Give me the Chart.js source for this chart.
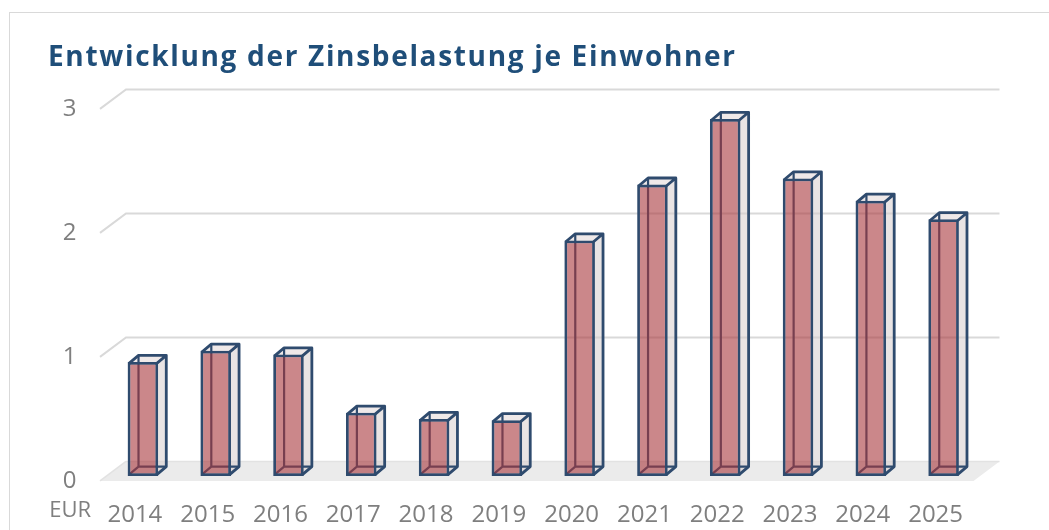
<!DOCTYPE html>
<html>
<head>
<meta charset="utf-8">
<script src="https://cdn.jsdelivr.net/npm/chart.js@4/dist/chart.umd.min.js"></script>
<style>
  html, body { margin: 0; padding: 0; background: #fff; }
  #wrap { width: 1049px; height: 530px; position: relative; }
</style>
</head>
<body>
<div id="wrap"><canvas id="chart"></canvas></div>
<script>
const years = ['2014', '2015', '2016', '2017', '2018', '2019', '2020', '2021', '2022', '2023', '2024', '2025'];
const zinsJeEinwohner = [0.92, 1.01, 0.98, 0.51, 0.46, 0.45, 1.90, 2.35, 2.88, 2.40, 2.22, 2.07];
const yTicks = [0, 1, 2, 3];

const titleText = 'Entwicklung der Zinsbelastung je Einwohner';
const unitText = 'EUR';

const gray = '#7F7F7F';
const navy = '#2F4B6E';
const edge = 2.8;

// depth of the walls and of the boxes (oblique look of the excel chart)
const wallDepth = { x: 26, y: -19.5 };
const barInset = 0.25;
const boxDepth = { x: 9.5, y: -8 };

function boxCorners(el) {
  const bw = edge / 2;
  const left = el.x - el.width / 2 + bw;
  const right = el.x + el.width / 2 - bw;
  return { left, right, top: el.y + bw, bottom: el.base - bw };
}

function poly(ctx, pts) {
  ctx.beginPath();
  ctx.moveTo(pts[0][0], pts[0][1]);
  for (let i = 1; i < pts.length; i++) ctx.lineTo(pts[i][0], pts[i][1]);
  ctx.closePath();
}

const box3d = {
  id: 'box3d',
  beforeDraw(chart) {
    const ctx = chart.ctx;
    ctx.save();
    ctx.strokeStyle = '#D9D9D9';
    ctx.lineWidth = 1;
    ctx.strokeRect(9.5, 12.5, 1200, 700);

    // title
    ctx.fillStyle = '#1F4E79';
    ctx.font = 'bold 28px "Open Sans"';
    ctx.textBaseline = 'alphabetic';
    const w = ctx.measureText(titleText).width;
    ctx.letterSpacing = Math.max(0, (687 - w) / (titleText.length - 1)) + 'px';
    ctx.fillText(titleText, 48, 66);
    ctx.letterSpacing = '0px';

    // unit label
    ctx.fillStyle = gray;
    ctx.font = '22px "Open Sans"';
    ctx.textAlign = 'right';
    ctx.textBaseline = 'middle';
    ctx.fillText(unitText, 91, 511);
    ctx.restore();
  },
  beforeDatasetsDraw(chart) {
    const ctx = chart.ctx;
    const ys = chart.scales.y;
    const area = chart.chartArea;
    const fx = (x) => x - barInset * wallDepth.x;
    const fy = (y) => y - barInset * wallDepth.y;
    ctx.save();

    // floor
    const y0 = fy(ys.getPixelForValue(0));
    const xl = fx(area.left), xr = fx(area.right);
    poly(ctx, [[xl, y0], [xr, y0], [xr + wallDepth.x, y0 + wallDepth.y], [xl + wallDepth.x, y0 + wallDepth.y]]);
    ctx.fillStyle = '#EBEBEB';
    ctx.fill();
    ctx.strokeStyle = '#E2E2E2';
    ctx.lineWidth = 1.5;
    ctx.beginPath();
    ctx.moveTo(xl + wallDepth.x, y0 + wallDepth.y);
    ctx.lineTo(xr + wallDepth.x, y0 + wallDepth.y);
    ctx.stroke();
    ctx.beginPath();
    ctx.moveTo(xl, y0);
    ctx.lineTo(xl + wallDepth.x, y0 + wallDepth.y);
    ctx.stroke();

    // gridlines on the back wall
    ctx.strokeStyle = '#D9D9D9';
    ctx.lineWidth = 2;
    yTicks.forEach(v => {
      if (v === 0) return;
      const y = fy(ys.getPixelForValue(v));
      ctx.beginPath();
      ctx.moveTo(xl, y);
      ctx.lineTo(xl + wallDepth.x, y + wallDepth.y);
      ctx.lineTo(xr + wallDepth.x, y + wallDepth.y);
      ctx.stroke();
    });

    // hidden edges, side and top faces of each box
    const meta = chart.getDatasetMeta(0);
    meta.data.forEach(el => {
      const c = boxCorners(el);
      const dx = boxDepth.x, dy = boxDepth.y;

      poly(ctx, [[c.right, c.top], [c.right + dx, c.top + dy], [c.right + dx, c.bottom + dy], [c.right, c.bottom]]);
      ctx.fillStyle = 'rgba(215, 205, 205, 0.55)';
      ctx.fill();
      poly(ctx, [[c.left, c.top], [c.left + dx, c.top + dy], [c.right + dx, c.top + dy], [c.right, c.top]]);
      ctx.fillStyle = 'rgba(225, 215, 215, 0.55)';
      ctx.fill();

      ctx.strokeStyle = navy;
      ctx.lineWidth = 2.2;
      ctx.beginPath();
      ctx.moveTo(c.left + dx, c.top + dy);
      ctx.lineTo(c.left + dx, c.bottom + dy);
      ctx.lineTo(c.right + dx, c.bottom + dy);
      ctx.moveTo(c.left, c.bottom);
      ctx.lineTo(c.left + dx, c.bottom + dy);
      ctx.stroke();
    });
    ctx.restore();
  },
  afterDatasetsDraw(chart) {
    const ctx = chart.ctx;
    const meta = chart.getDatasetMeta(0);
    ctx.save();
    ctx.strokeStyle = navy;
    ctx.lineWidth = edge;
    ctx.lineJoin = 'round';
    meta.data.forEach(el => {
      const c = boxCorners(el);
      const dx = boxDepth.x, dy = boxDepth.y;
      ctx.beginPath();
      ctx.moveTo(c.left, c.top);
      ctx.lineTo(c.left + dx, c.top + dy);
      ctx.lineTo(c.right + dx, c.top + dy);
      ctx.lineTo(c.right + dx, c.bottom + dy);
      ctx.lineTo(c.right, c.bottom);
      ctx.moveTo(c.right, c.top);
      ctx.lineTo(c.right + dx, c.top + dy);
      ctx.stroke();
    });
    ctx.restore();
  }
};

new Chart(document.getElementById('chart'), {
  type: 'bar',
  data: {
    labels: years,
    datasets: [{
      data: zinsJeEinwohner,
      backgroundColor: 'rgba(168, 55, 60, 0.6)',
      borderColor: navy,
      borderWidth: edge,
      borderSkipped: false,
      categoryPercentage: 0.42,
      barPercentage: 1
    }]
  },
  options: {
    responsive: true,
    maintainAspectRatio: false,
    animation: false,
    layout: { padding: { left: 10, top: 104, right: 69, bottom: 0 } },
    plugins: {
      legend: { display: false },
      title: { display: false },
      tooltip: { enabled: false }
    },
    scales: {
      x: {
        grid: { display: false, drawTicks: false },
        border: { display: false },
        ticks: {
          color: gray,
          font: { family: 'Open Sans', size: 24 },
          padding: 25,
          labelOffset: -8,
          maxRotation: 0
        },
        afterFit: (s) => { s.height = 54; }
      },
      y: {
        min: 0,
        max: 3,
        grid: { display: false, drawTicks: false },
        border: { display: false },
        ticks: {
          stepSize: 1,
          color: gray,
          font: { family: 'Open Sans', size: 24 },
          padding: 30,
          labelOffset: 5
        },
        afterFit: (s) => { s.width = 96.5; }
      }
    }
  },
  plugins: [box3d]
});
</script>
</body>
</html>
